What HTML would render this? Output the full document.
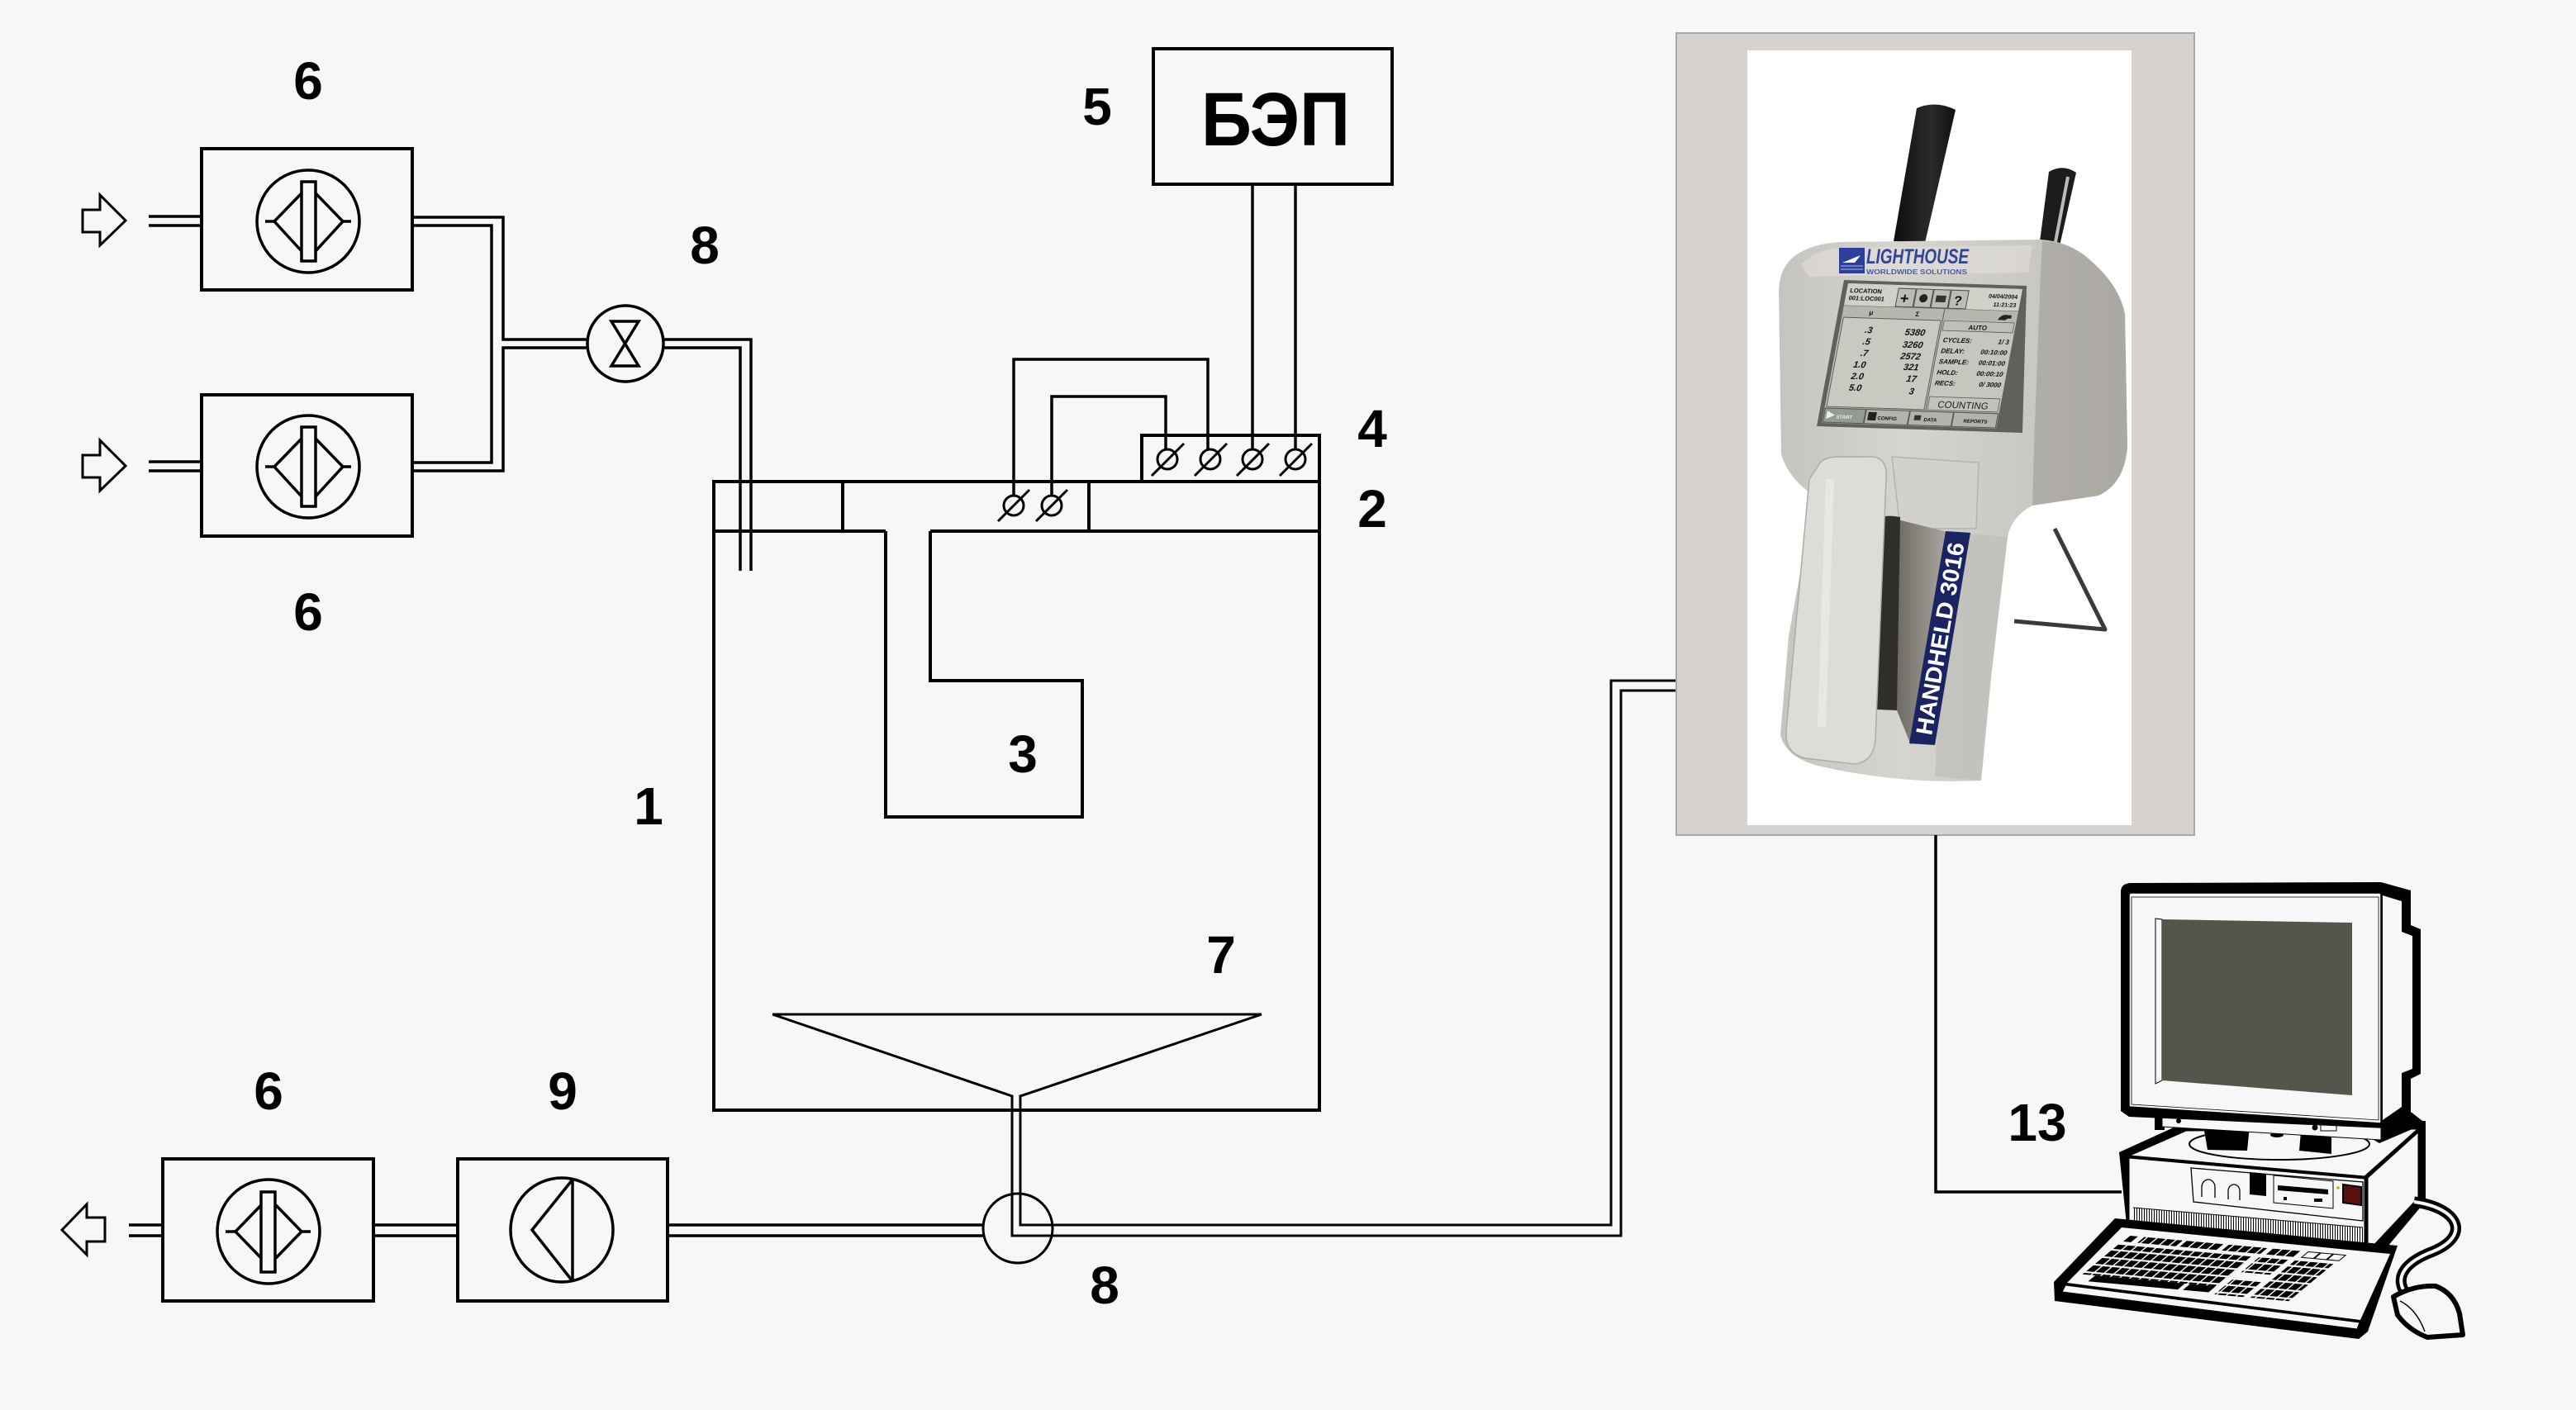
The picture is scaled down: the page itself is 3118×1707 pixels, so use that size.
<!DOCTYPE html>
<html><head><meta charset="utf-8">
<style>
html,body{margin:0;padding:0;background:#f7f7f7;}
svg{display:block;}
.lbl{font-family:"Liberation Sans",Arial,sans-serif;font-weight:bold;font-size:64px;fill:#000;text-anchor:middle;}
.scr{font-family:"Liberation Sans",Arial,sans-serif;font-weight:bold;fill:#111;}
</style></head><body>
<svg width="3118" height="1707" viewBox="0 0 3118 1707" xmlns="http://www.w3.org/2000/svg">
<defs>
  <linearGradient id="bodyg" x1="0" x2="1" y1="0" y2="0">
    <stop offset="0" stop-color="#c6c4be"/>
    <stop offset="0.35" stop-color="#d6d4ce"/>
    <stop offset="0.75" stop-color="#c9c7c1"/>
    <stop offset="1" stop-color="#aeaca6"/>
  </linearGradient>
  <linearGradient id="midg" x1="0" x2="1" y1="0" y2="0">
    <stop offset="0" stop-color="#6a6862"/>
    <stop offset="1" stop-color="#aaa8a1"/>
  </linearGradient>
  <linearGradient id="probeg" x1="0" x2="1" y1="0" y2="0">
    <stop offset="0" stop-color="#0e0e0e"/>
    <stop offset="0.6" stop-color="#2a2a2a"/>
    <stop offset="1" stop-color="#111"/>
  </linearGradient>
  <pattern id="vent" width="3" height="20" patternUnits="userSpaceOnUse">
    <rect width="1" height="20" fill="#000"/>
  </pattern>
  <pattern id="keys" width="3.75" height="1" patternUnits="userSpaceOnUse">
    <rect x="0" y="0.1" width="3.1" height="0.78" fill="#000"/>
  </pattern>
</defs>

<rect width="3118" height="1707" fill="#f7f7f7"/>

<!-- ================= LEFT SCHEMATIC ================= -->
<g fill="none" stroke="#000" stroke-width="4" stroke-linejoin="miter">
  <rect x="244" y="180" width="255" height="171"/>
  <rect x="244" y="478" width="255" height="171"/>
  <rect x="197" y="1403" width="255" height="172"/>
  <rect x="554" y="1403" width="254" height="172"/>
  <rect x="864" y="583" width="733" height="761"/>
  <line x1="864" y1="643" x2="1072" y2="643"/>
  <line x1="1126" y1="643" x2="1597" y2="643"/>
  <line x1="1020" y1="583" x2="1020" y2="643"/>
  <line x1="1318" y1="583" x2="1318" y2="643"/>
  <polyline points="1072,643 1072,989 1310,989 1310,824 1126,824 1126,643"/>
  <rect x="1382" y="527" width="215" height="56"/>
  <rect x="1396" y="59" width="289" height="164"/>
</g>

<g fill="none" stroke="#000" stroke-width="3.5">
  <g transform="translate(373,268)">
    <circle r="62"/><rect x="-8" y="-48" width="17" height="96"/>
    <polyline points="-8,-34 -41,0 -8,36"/><polyline points="9,-34 42,0 9,36"/>
    <line x1="-52" y1="0" x2="-41" y2="0"/><line x1="42" y1="0" x2="52" y2="0"/>
  </g>
  <g transform="translate(373,565)">
    <circle r="62"/><rect x="-8" y="-48" width="17" height="96"/>
    <polyline points="-8,-34 -41,0 -8,36"/><polyline points="9,-34 42,0 9,36"/>
    <line x1="-52" y1="0" x2="-41" y2="0"/><line x1="42" y1="0" x2="52" y2="0"/>
  </g>
  <g transform="translate(325,1491)">
    <ellipse rx="62" ry="63"/><rect x="-9" y="-48" width="17" height="97"/>
    <polyline points="-9,-32 -40,0 -9,32"/><polyline points="9,-32 40,0 9,32"/>
    <line x1="-52" y1="0" x2="-40" y2="0"/><line x1="40" y1="0" x2="51" y2="0"/>
  </g>
  <ellipse cx="680" cy="1489" rx="62" ry="63"/>
  <line x1="693" y1="1428" x2="693" y2="1551"/>
  <polyline points="693,1428 644,1489 693,1551"/>
  <circle cx="757" cy="416" r="46"/>
  <circle cx="1232" cy="1487" r="42" stroke-width="3"/>
</g>
<g fill="none" stroke="#000" stroke-width="3.5">
  <polygon points="740,389 773,389 740,443 773,443"/>
</g>

<g fill="#f7f7f7" stroke="#000" stroke-width="3">
  <polygon points="100,254 121,254 121,236 152,267 121,297 121,281 100,281"/>
  <polygon points="100,551 121,551 121,533 152,564 121,594 121,578 100,578"/>
  <polygon points="75,1489 105,1458 105,1474 127,1474 127,1503 105,1503 105,1519"/>
</g>

<g fill="none" stroke="#000" stroke-width="3.5">
  <line x1="180" y1="262" x2="244" y2="262"/><line x1="180" y1="273" x2="244" y2="273"/>
  <line x1="180" y1="559" x2="244" y2="559"/><line x1="180" y1="570" x2="244" y2="570"/>
  <polyline points="499,263 609,263 609,411 711,411"/>
  <polyline points="499,273 595,273 595,560 499,560"/>
  <polyline points="711,421 609,421 609,570 499,570"/>
  <polyline points="802,411 909,411 909,691"/>
  <polyline points="802,421 896,421 896,691"/>
  <line x1="156" y1="1483" x2="197" y2="1483"/><line x1="156" y1="1496" x2="197" y2="1496"/>
  <line x1="452" y1="1483" x2="554" y2="1483"/><line x1="452" y1="1496" x2="554" y2="1496"/>
  <line x1="808" y1="1483" x2="1190" y2="1483"/><line x1="808" y1="1496" x2="1190" y2="1496"/>
</g>
<g fill="none" stroke="#000" stroke-width="3">
  <line x1="935" y1="1228" x2="1527" y2="1228"/>
  <polyline points="935,1228 1225,1327 1225,1496 1962,1496 1962,836 2029,836"/>
  <polyline points="1527,1228 1235,1327 1235,1483 1950,1483 1950,824 2029,824"/>
</g>

<g fill="none" stroke="#000" stroke-width="3.5">
  <polyline points="1227,600 1227,435 1462,435 1462,544"/>
  <polyline points="1273,600 1273,480 1411,480 1411,544"/>
  <line x1="1516" y1="223" x2="1516" y2="544"/>
  <line x1="1568" y1="223" x2="1568" y2="544"/>
</g>
<g fill="#f7f7f7" stroke="#000" stroke-width="3">
  <circle cx="1227" cy="612" r="12"/><circle cx="1273" cy="612" r="12"/>
  <circle cx="1413" cy="556" r="12"/><circle cx="1465" cy="556" r="12"/>
  <circle cx="1516" cy="556" r="12"/><circle cx="1568" cy="556" r="12"/>
</g>
<g stroke="#000" stroke-width="3">
  <line x1="1208" y1="631" x2="1246" y2="593"/><line x1="1254" y1="631" x2="1292" y2="593"/>
  <line x1="1394" y1="576" x2="1433" y2="537"/><line x1="1446" y1="576" x2="1485" y2="537"/>
  <line x1="1497" y1="576" x2="1536" y2="537"/><line x1="1549" y1="576" x2="1588" y2="537"/>
</g>

<text class="lbl" x="373" y="120">6</text>
<text class="lbl" x="373" y="763">6</text>
<text class="lbl" x="325" y="1343">6</text>
<text class="lbl" x="681" y="1343">9</text>
<text class="lbl" x="853" y="319">8</text>
<text class="lbl" x="1337" y="1578">8</text>
<text class="lbl" x="1328" y="151">5</text>
<text class="lbl" x="1661" y="541">4</text>
<text class="lbl" x="1661" y="638">2</text>
<text class="lbl" x="785" y="998">1</text>
<text class="lbl" x="1238" y="935">3</text>
<text class="lbl" x="1478" y="1178">7</text>
<text class="lbl" x="2466" y="1381">13</text>
<text x="1454" y="176" font-family="Liberation Sans, Arial, sans-serif" font-weight="bold" font-size="92" textLength="180" lengthAdjust="spacingAndGlyphs" fill="#000">БЭП</text>

<!-- ================= DEVICE PHOTO ================= -->
<rect x="2029" y="40" width="627" height="971" fill="#d6d2cf" stroke="#aaa8a6" stroke-width="2"/>
<rect x="2115" y="61" width="465" height="938" fill="#ffffff"/>

<path d="M2292,292 L2320,131 Q2343,121 2367,133 L2330,294 Z" fill="url(#probeg)"/>
<path d="M2468,300 L2480,208 Q2497,198 2513,209 L2492,302 Z" fill="#1c1c1c"/>
<line x1="2503" y1="214" x2="2487" y2="298" stroke="#bdbbb5" stroke-width="4"/>

<polyline points="2487,640 2548,762 2438,752" fill="none" stroke="#3a3a38" stroke-width="5" stroke-linejoin="round"/>

<path d="M2153,350 Q2155,318 2180,305 Q2200,294 2230,293 L2470,290 Q2505,292 2530,315 Q2565,345 2572,380 L2575,540 Q2572,585 2540,600 L2460,612 Q2435,625 2430,650 L2410,820 L2398,945 Q2300,950 2200,927 Q2162,917 2155,890 L2165,770 L2196,600 Q2165,580 2156,550 Z" fill="url(#bodyg)"/>
<path d="M2472,292 Q2505,292 2530,315 Q2565,345 2572,380 L2575,540 Q2572,585 2540,600 L2460,612 L2462,540 L2470,330 Z" fill="#aaa8a2" opacity="0.85"/>
<path d="M2180,320 Q2200,300 2235,300 L2460,297 L2455,330 L2190,335 Z" fill="#e2e0db" opacity="0.6"/>
<path d="M2290,553 L2395,560 L2392,640 L2300,640 Z" fill="#d3d1cb" stroke="#b5b3ad" stroke-width="1.5"/>
<path d="M2357,644 L2430,650 L2410,820 L2398,945 L2342,940 Z" fill="#bdbbb5" opacity="0.6"/>
<path d="M2293,628 L2357,644 L2313,902 L2296,860 Z" fill="url(#midg)"/>
<path d="M2262,630 Q2280,622 2300,626 L2296,860 L2252,858 Z" fill="#2f2e2b"/>
<path d="M2200,565 Q2205,553 2225,553 L2268,553 Q2285,556 2283,580 L2270,895 Q2268,922 2245,925 L2185,918 Q2160,912 2162,885 L2190,580 Z" fill="#dedcd7" stroke="#aeaca6" stroke-width="1.5"/>
<path d="M2215,580 L2205,880" stroke="#eeece8" stroke-width="10" opacity="0.7"/>
<polygon points="2355,643 2385,645 2342,902 2311,900" fill="#1b2463"/>
<text transform="translate(2348,773) rotate(-80.3)" x="0" y="10" text-anchor="middle" font-family="Liberation Sans, Arial, sans-serif" font-weight="bold" font-size="28" fill="#ffffff" textLength="236" lengthAdjust="spacingAndGlyphs">HANDHELD 3016</text>

<rect x="2226" y="300" width="31" height="31" fill="#2d3f9a"/>
<polygon points="2230,318 2252,309 2245,318" fill="#ffffff"/>
<line x1="2228" y1="322" x2="2255" y2="322" stroke="#8fa0dd" stroke-width="1.2"/>
<line x1="2228" y1="326" x2="2255" y2="326" stroke="#8fa0dd" stroke-width="1.2"/>
<text x="2259" y="319" font-family="Liberation Sans, Arial, sans-serif" font-style="italic" font-weight="bold" font-size="25" fill="#31449b" textLength="124" lengthAdjust="spacingAndGlyphs">LIGHTHOUSE</text>
<text x="2259" y="332" font-family="Liberation Sans, Arial, sans-serif" font-weight="bold" font-size="8.5" fill="#4a5a9e" textLength="122" lengthAdjust="spacingAndGlyphs">WORLDWIDE SOLUTIONS</text>

<polygon points="2232,339 2453,346 2448,524 2199,516" fill="#5f615b"/>
<g transform="matrix(1,0.0332,-0.189,1,2237,343)">
  <rect x="0" y="0" width="211" height="169" fill="#c3c7bd"/>
  <rect x="0" y="0" width="211" height="27" fill="#cfd2c9"/>
  <line x1="0" y1="27" x2="211" y2="27" stroke="#5a5d57" stroke-width="1"/>
  <rect x="62" y="4" width="21" height="22" fill="#b9bdb4" stroke="#4d504a" stroke-width="1"/>
  <rect x="84" y="4" width="20" height="22" fill="#b9bdb4" stroke="#4d504a" stroke-width="1"/>
  <rect x="105" y="4" width="20" height="22" fill="#b9bdb4" stroke="#4d504a" stroke-width="1"/>
  <rect x="126" y="4" width="21" height="22" fill="#b9bdb4" stroke="#4d504a" stroke-width="1"/>
  <text class="scr" x="66" y="22" font-size="18" fill="#f4f4f4">+</text>
  <circle cx="94" cy="15" r="5" fill="#222"/>
  <rect x="109" y="11" width="12" height="8" fill="#333"/>
  <text class="scr" x="131" y="22" font-size="16">?</text>
  <text class="scr" x="4" y="11" font-size="7.5">LOCATION</text>
  <text class="scr" x="4" y="20" font-size="7.5">001:LOC001</text>
  <text class="scr" x="207" y="12" font-size="7" text-anchor="end" fill="#333">04/04/2004</text>
  <text class="scr" x="207" y="22" font-size="7" text-anchor="end" fill="#333">11:21:23</text>
  <rect x="0" y="27" width="211" height="13" fill="#b3b7ad"/>
  <text class="scr" x="32" y="37" font-size="8">μ</text>
  <text class="scr" x="88" y="37" font-size="8">Σ</text>
  <path d="M188,38 q4,-8 12,-6 l4,0 l0,4 l-4,0 q-3,3 -6,2 z" fill="#222"/>
  <line x1="122" y1="27" x2="122" y2="150" stroke="#5a5d57" stroke-width="1"/>
  <rect x="2" y="41" width="118" height="108" fill="#c6cac0" stroke="#5a5d57" stroke-width="1"/>
  <g class="scr" font-size="11" font-style="italic" text-anchor="end">
    <text x="40" y="59">.3</text><text x="104" y="60">5380</text>
    <text x="40" y="73">.5</text><text x="104" y="75">3260</text>
    <text x="40" y="87">.7</text><text x="104" y="89">2572</text>
    <text x="40" y="101">1.0</text><text x="104" y="102">321</text>
    <text x="40" y="115">2.0</text><text x="104" y="116">17</text>
    <text x="40" y="129">5.0</text><text x="104" y="131">3</text>
  </g>
  <rect x="124" y="41" width="85" height="12" fill="#bcc0b6" stroke="#5a5d57" stroke-width="0.8"/>
  <text class="scr" x="166" y="51" font-size="8" text-anchor="middle">AUTO</text>
  <g class="scr" font-size="8" font-style="italic">
    <text x="127" y="67">CYCLES:</text><text x="207" y="67" text-anchor="end">1/    3</text>
    <text x="127" y="80">DELAY:</text><text x="207" y="80" text-anchor="end">00:10:00</text>
    <text x="127" y="93">SAMPLE:</text><text x="207" y="93" text-anchor="end">00:01:00</text>
    <text x="127" y="106">HOLD:</text><text x="207" y="106" text-anchor="end">00:00:10</text>
    <text x="127" y="119">RECS:</text><text x="207" y="119" text-anchor="end">0/ 3000</text>
  </g>
  <rect x="124" y="133" width="85" height="16" fill="#c0c4ba" stroke="#5a5d57" stroke-width="0.8"/>
  <text x="166" y="146" font-family="Liberation Sans, Arial, sans-serif" font-size="11.5" text-anchor="middle" fill="#222">COUNTING</text>
  <rect x="0" y="150" width="211" height="19" fill="#8a8f86"/>
  <rect x="1" y="151" width="49" height="17" fill="#959b91" stroke="#4d504a" stroke-width="0.8"/>
  <rect x="51" y="151" width="52" height="17" fill="#b0b4aa" stroke="#4d504a" stroke-width="0.8"/>
  <rect x="104" y="151" width="52" height="17" fill="#b0b4aa" stroke="#4d504a" stroke-width="0.8"/>
  <rect x="157" y="151" width="53" height="17" fill="#b0b4aa" stroke="#4d504a" stroke-width="0.8"/>
  <polygon points="4,154 14,159 4,164" fill="#eee"/>
  <g class="scr" font-size="6">
    <text x="16" y="163" fill="#eee">START</text>
    <text x="66" y="163">CONFIG</text>
    <text x="122" y="163">DATA</text>
    <text x="170" y="163">REPORTS</text>
  </g>
  <rect x="54" y="154" width="10" height="10" fill="#222"/>
  <rect x="110" y="156" width="8" height="6" fill="#333"/>
</g>

<polyline points="2343,1011 2343,1443 2568,1443" fill="none" stroke="#000" stroke-width="3.5"/>

<!-- ================= COMPUTER ================= -->
<polygon points="2565,1395 2642,1360 2936,1357 2936,1454 2880,1521 2575,1492" fill="#000"/>
<polygon points="2578,1399 2646,1369 2926,1367 2862,1424" fill="#f7f7f7" stroke="#000" stroke-width="1"/>
<polygon points="2577,1402 2862,1427 2862,1517 2577,1490" fill="#f7f7f7" stroke="#000" stroke-width="1"/>
<polygon points="2866,1426 2927,1371 2927,1450 2866,1515" fill="#f7f7f7" stroke="#000" stroke-width="1"/>
<polygon points="2652,1414 2860,1431 2860,1478 2655,1455" fill="none" stroke="#000" stroke-width="1.3"/>
<path d="M2665,1449 L2665,1437 A8,9 0 0 1 2681,1437 L2681,1450 M2697,1452 L2697,1442 A7,8 0 0 1 2711,1442 L2711,1453" fill="none" stroke="#000" stroke-width="1.3"/>
<polygon points="2723,1419 2743,1421 2743,1448 2723,1446" fill="#000"/>
<polygon points="2752,1423 2824,1430 2824,1463 2752,1456" fill="none" stroke="#000" stroke-width="1"/>
<polygon points="2757,1435 2818,1440 2818,1446 2757,1441" fill="#000"/>
<rect x="2764" y="1449" width="4" height="4" fill="#000"/>
<rect x="2801" y="1451" width="10" height="4" fill="#000"/>
<polygon points="2836,1434 2858,1437 2858,1459 2836,1456" fill="#5a1010" stroke="#000" stroke-width="2"/>
<circle cx="2830" cy="1438" r="1.8" fill="#c8b400"/>
<polygon points="2582,1462 2860,1486 2860,1516 2582,1491" fill="url(#vent)"/>
<line x1="2582" y1="1462" x2="2860" y2="1486" stroke="#000" stroke-width="1"/>

<ellipse cx="2759" cy="1385" rx="109" ry="19" fill="#f7f7f7" stroke="#000" stroke-width="2"/>
<polygon points="2667,1363 2723,1363 2720,1393 2672,1392" fill="#000"/>
<polygon points="2785,1370 2822,1370 2822,1397 2783,1393" fill="#000"/>
<ellipse cx="2756" cy="1374" rx="8" ry="3" fill="#000"/>

<polygon points="2850,1366 2918,1346 2936,1360 2880,1384" fill="#000"/>
<polygon points="2608,1340 2620,1340 2620,1368 2608,1368" fill="#000"/>
<polygon points="2617,1345 2882,1362 2882,1380 2617,1364" fill="#f7f7f7" stroke="#000" stroke-width="1"/>
<circle cx="2637" cy="1357" r="3" fill="#000"/>
<circle cx="2802" cy="1365" r="3.5" fill="#000"/>
<rect x="2809" y="1362" width="19" height="7" fill="none" stroke="#000" stroke-width="1"/>
<path d="M2567,1080 Q2567,1069 2580,1069 L2882,1068 L2918,1078 L2918,1120 L2930,1125 L2930,1300 L2918,1306 L2918,1346 L2888,1366 L2577,1352 L2567,1345 Z" fill="#000"/>
<path d="M2884,1084 L2907,1091 L2907,1128 L2920,1133 L2920,1294 L2907,1299 L2907,1340 L2884,1356 Z" fill="#f7f7f7"/>
<path d="M2577,1084 Q2577,1081 2580,1081 L2880,1081 Q2882,1081 2882,1084 L2882,1360 L2577,1340 Z" fill="#f7f7f7" stroke="#000" stroke-width="1.5"/>
<path d="M2580,1086 L2879,1086 L2879,1356 L2580,1337 Z" fill="none" stroke="#000" stroke-width="0.8"/>
<polygon points="2609,1112 2617,1113 2617,1308 2609,1312" fill="none" stroke="#000" stroke-width="1"/>
<polygon points="2617,1113 2847,1117 2847,1326 2617,1308" fill="#55554b"/>

<polygon points="2560,1475 2902,1508 2866,1612 2855,1621 2487,1575 2486,1552" fill="#000"/>
<polygon points="2568,1486 2893,1518 2857,1598 2502,1553" fill="#f7f7f7"/>
<polygon points="2500,1556 2856,1601 2853,1609 2496,1564" fill="#f7f7f7" stroke="#000" stroke-width="1"/>
<g transform="matrix(3.10,0.28,-10.83,9.0,2578,1495)">
  <rect x="0.5" y="0.1" width="3" height="0.78" fill="#000"/>
  <rect x="6" y="0" width="15" height="1" fill="url(#keys)"/>
  <rect x="22.5" y="0" width="15" height="1" fill="url(#keys)"/>
  <rect x="39" y="0" width="15" height="1" fill="url(#keys)"/>
  <rect x="56" y="0" width="11.25" height="1" fill="url(#keys)"/>
  <rect x="70" y="0.1" width="4.6" height="0.75" fill="#f7f7f7" stroke="#000" stroke-width="1" vector-effect="non-scaling-stroke"/>
  <rect x="75" y="0.1" width="4.6" height="0.75" fill="#f7f7f7" stroke="#000" stroke-width="1" vector-effect="non-scaling-stroke"/>
  <rect x="80" y="0.1" width="4.6" height="0.75" fill="#f7f7f7" stroke="#000" stroke-width="1" vector-effect="non-scaling-stroke"/>
  <rect x="0" y="1.3" width="52.5" height="4" fill="url(#keys)"/>
  <rect x="5" y="5.3" width="35" height="0.8" fill="#000"/>
  <rect x="42" y="5.3" width="10" height="0.8" fill="#000"/>
  <rect x="55" y="1.3" width="11.25" height="2" fill="url(#keys)"/>
  <rect x="55" y="4.3" width="11.25" height="2" fill="url(#keys)"/>
  <rect x="69" y="1.3" width="15" height="5" fill="url(#keys)"/>
</g>

<path d="M2922,1455 C2975,1462 2992,1495 2945,1515 C2905,1530 2900,1550 2912,1566" fill="none" stroke="#000" stroke-width="13"/>
<path d="M2922,1455 C2975,1462 2992,1495 2945,1515 C2905,1530 2900,1550 2912,1566" fill="none" stroke="#f7f7f7" stroke-width="4"/>
<path d="M2897,1570 Q2920,1556 2948,1557 Q2970,1565 2977,1590 L2981,1616 L2938,1619 Q2915,1610 2902,1592 Z" fill="#f7f7f7" stroke="#000" stroke-width="6" stroke-linejoin="round"/>
<path d="M2905,1575 Q2925,1585 2935,1612" fill="none" stroke="#000" stroke-width="1.5"/>
</svg>
</body></html>
